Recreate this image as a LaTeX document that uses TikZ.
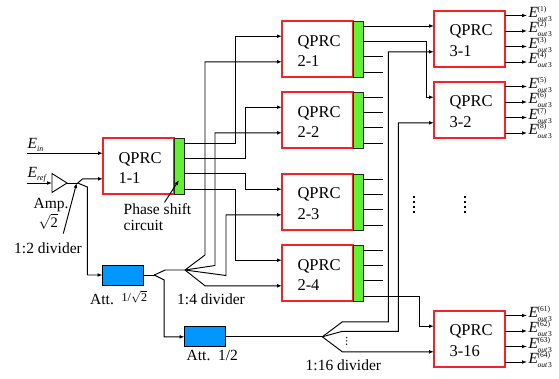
\documentclass[tikz,border=0pt]{standalone}
\usepackage{fontspec}
\setmainfont{Liberation Serif}
\usetikzlibrary{arrows.meta,calc}

\definecolor{qred}{RGB}{245,35,35}
\definecolor{qgreen}{RGB}{100,240,50}
\definecolor{qblue}{RGB}{0,150,255}

\newcommand{\Eo}[1]{\textit{E}\kern-0.3pt\makebox[0pt][l]{\raisebox{6pt}{\fontsize{7.5}{7.5}\selectfont(#1)}}\raisebox{-4pt}{\fontsize{7.5}{7.5}\selectfont\textit{out}\kern0.8pt3}}
\newcommand{\Esub}[1]{\textit{E}\raisebox{-3pt}{\fontsize{8}{8}\selectfont\textit{#1}}}

\begin{document}
\begin{tikzpicture}[x=1pt,y=-1pt,
 wire/.style={line width=0.95pt},
 arr/.style={wire,-{Latex[length=5pt,width=3.8pt]}},
 qbox/.style={draw=qred,line width=1.1pt,fill=white,minimum width=71pt,minimum height=56pt,
   inner sep=0pt,outer sep=0pt,align=left,text width=40pt,font=\fontsize{16.5}{20.5}\selectfont},
 gbar/.style={draw=black!85,fill=qgreen,line width=1pt,minimum width=10pt,minimum height=56pt,inner sep=0pt,outer sep=0pt},
 attbox/.style={draw=black,fill=qblue,line width=1pt,minimum width=41pt,minimum height=20pt,inner sep=0pt,outer sep=0pt},
 lbl/.style={font=\fontsize{15.5}{18}\selectfont,inner sep=0pt,anchor=base west},
 elbl/.style={font=\fontsize{15.5}{18}\selectfont,inner sep=0pt,anchor=base west}
]
\useasboundingbox (0,0) rectangle (559,378);

% boxes
\node[qbox] (q11) at (138.5,166) {\rule{0pt}{14.6pt}QPRC\\1-1};
\node[qbox] (q21) at (317.5,49) {\rule{0pt}{14.6pt}QPRC\\2-1};
\node[qbox] (q22) at (317.5,120) {\rule{0pt}{14.6pt}QPRC\\2-2};
\node[qbox] (q23) at (317.5,202) {\rule{0pt}{14.6pt}QPRC\\2-3};
\node[qbox] (q24) at (317.5,273) {\rule{0pt}{14.6pt}QPRC\\2-4};
\node[qbox] (q31) at (469.5,39) {\rule{0pt}{14.6pt}QPRC\\3-1};
\node[qbox] (q32) at (469.5,110) {\rule{0pt}{14.6pt}QPRC\\3-2};
\node[qbox] (q316) at (469.5,339) {\rule{0pt}{14.6pt}QPRC\\3-16};
\foreach \nn in {11,21,22,23,24}{
  \node[gbar,anchor=west] (g\nn) at (q\nn.east) {};
  \coordinate (g\nn o1) at ($(g\nn.east)+(0,-23)$);
  \coordinate (g\nn o2) at ($(g\nn.east)+(0,-7.7)$);
  \coordinate (g\nn o3) at ($(g\nn.east)+(0,7.6)$);
  \coordinate (g\nn o4) at ($(g\nn.east)+(0,23)$);
}
\foreach \nn in {11,21,22,23,24,31,32,316}{
  \coordinate (q\nn i1) at ($(q\nn.west)+(0,-12.8)$);
  \coordinate (q\nn i2) at ($(q\nn.west)+(0,12.8)$);
}

\node[attbox] (a1) at (123,275) {};
\node[attbox] (a2) at (205,336.8) {};

% amplifier (triangle)
\coordinate (ampin) at (52,183);
\coordinate (ampout) at (67,183);
\draw[line width=0.9pt,line join=miter] (52,173.5) -- (52,192.5) -- (ampout) -- cycle;

% inputs
\coordinate (ein) at ($(q11i1)+(-76,0)$);
\coordinate (eref) at (27,183);
\draw[arr] (ein) -- (q11i1);
\draw[arr] (eref) -- (ampin);

% 1:2 divider after amplifier
\coordinate (d2) at (77.7,183);
\draw[wire] (ampout) -- (d2);
\draw[arr] (d2) -- ++(5,-4.2) -- (q11i2);
\draw[arr] (d2) -- ++(9.6,4) |- (a1.west);

% 1:2 divider after att 1
\coordinate (d2b) at ($(a1.east)+(10.7,0)$);
\coordinate (d4) at (185,270);
\draw[wire] (a1.east) -- (d2b);
\draw[wire] (d2b) -- ++(11,-5) -- (d4);
\draw[arr] (d2b) -- ++(10,5) |- (a2.west);

% 1:4 divider
\draw[arr] (d4) -- ++(20,-15) |- (q21i2);
\draw[arr] (d4) -- ++(30,-4.5) |- (q22i2);
\draw[arr] (d4) -- ++(41,5.5) |- (q23i2);
\draw[arr] (d4) -- ++(20,15.8) -- (q24i2);

% QPRC 1-1 outputs
\draw[arr] (g11o1) -- ++(51,0) |- (q21i1);
\draw[arr] (g11o2) -- ++(61.7,0) |- (q22i1);
\draw[arr] (g11o3) -- ++(61.7,0) |- (q23i1);
\draw[arr] (g11o4) -- ++(51,0) |- (q24i1);

% QPRC 2-x outputs
\draw[arr] (g21o1) -- (g21o1 -| q31.west);
\draw[arr] (g21o2) -- ++(63,0) |- (q32i1);
\draw[wire] (g21o3) -- ++(20,0);
\draw[wire] (g21o4) -- ++(20,0);
\foreach \nn in {22,23}{
  \foreach \kk in {1,2,3,4}{ \draw[wire] (g\nn o\kk) -- ++(20,0); }
}
\foreach \kk in {1,2,3}{ \draw[wire] (g24o\kk) -- ++(20,0); }
\draw[arr] (g24o4) -- ++(56,0) |- (q316i1);

% 1:16 divider
\coordinate (d16) at (322.3,336.8);
\draw[wire] (a2.east) -- (d16);
\draw[arr] (d16) -- ++(20,-15) -- ++(46,0) |- (q31i2);
\draw[arr] (d16) -- ++(20,-5.5) -- ++(56,0) |- (q32i2);
\draw[arr] (d16) -- ++(20,15) -- (q316i2);
\foreach \yy in {337.6,340.9,344.2}{ \fill (346.7,\yy) circle (0.75pt); }

% QPRC 3-x outputs
\foreach \bx/\st in {31/0,32/4,316/60}{
  \foreach \kk/\dy in {1/-23.5,2/-8,3/7.5,4/23}{
    \pgfmathtruncatemacro{\num}{\st+\kk}
    \draw[arr] ($(q\bx.east)+(0,\dy)$) coordinate (q\bx o\kk) -- ++(22,0) coordinate (t\bx o\kk);
    \node[elbl] (e\num) at ($(t\bx o\kk)+(1.3,1.8)$) {\Eo{\num}};
  }
}

% vertical dots
\foreach \yy in {196,201,206,211}{
  \fill (413,\yy) rectangle ++(2,2);
  \fill (464,\yy) rectangle ++(2,2);
}

% labels
\node[lbl] (lein) at (27.5,148) {\Esub{in}};
\node[lbl] (leref) at (27.5,177.5) {\Esub{ref}};
\node[lbl] (lamp) at (33.5,208.5) {Amp.};
\node[lbl,font=\fontsize{14.5}{16}\selectfont] (lsq) at (38.5,227) {$\sqrt{\hbox{2}}$};
\node[lbl] (l12) at (14,253) {1:2 divider};
\node[lbl] (lps) at (123.5,214.5) {Phase shift};
\node[lbl] (lcir) at (123.5,230.5) {circuit};
\node[lbl] (latt1) at (90,304.5) {Att.};
\node[lbl,font=\fontsize{12}{14}\selectfont] (latv) at (121.5,301.5) {1/$\sqrt{\hbox{2}}$};
\node[lbl] (l14) at (177,304.5) {1:4 divider};
\node[lbl] (latt2) at (186.5,360) {Att.\enspace1/2};
\node[lbl] (l116) at (305.5,370.5) {1:16 divider};

% label pointers
\draw[arr] ($(l12.north)+(15.3,-8.5)$) -- ($(d2)+(-1,0)$);
\draw[arr] ($(lps.north)+(7,-1)$) -- ($(g11.center)+(0,14)$);
\end{tikzpicture}
\end{document}
